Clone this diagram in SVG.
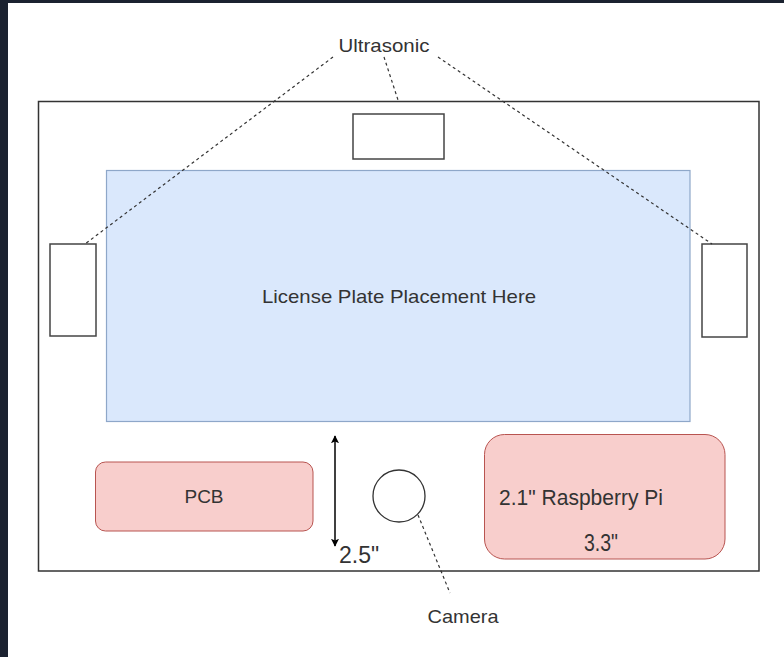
<svg xmlns="http://www.w3.org/2000/svg" width="784" height="657" viewBox="0 0 784 657">
<style>
.t{font-family:"Liberation Sans",Arial,sans-serif;fill:#333;}
.box{fill:#fff;stroke:#444;stroke-width:1.5;}
.dash{fill:none;stroke:#333;stroke-width:1.2;stroke-dasharray:3 3;}
.red{fill:#f8cecc;stroke:#b85450;stroke-width:1;}
</style>
<defs>
<marker id="ah" viewBox="0 0 10 10" refX="9" refY="5" markerWidth="8" markerHeight="8" orient="auto-start-reverse" markerUnits="userSpaceOnUse">
<path d="M0,0 L10,5 L0,10 L2,5 z" fill="#000"/>
</marker>
</defs>
<rect x="0" y="0" width="784" height="657" fill="#fff"/>
<rect x="0" y="0" width="8" height="657" fill="#1b2230"/>
<rect x="0" y="0" width="784" height="3" fill="#1b2230"/>
<g id="frame"><rect x="38.5" y="101.5" width="720.5" height="469.5" fill="#fff" stroke="#333" stroke-width="1.5"/></g>
<g id="plate"><rect x="106.5" y="170.5" width="583.5" height="251" fill="#dae8fc" stroke="#8ea7c9" stroke-width="1.2"/>
<text class="t" x="399" y="303" font-size="19" text-anchor="middle" textLength="274" lengthAdjust="spacingAndGlyphs">License Plate Placement Here</text></g>
<g id="sensor-top"><rect class="box" x="353" y="114" width="91" height="45"/></g>
<g id="sensor-left"><rect class="box" x="50" y="244" width="46" height="92"/></g>
<g id="sensor-right"><rect class="box" x="702" y="244" width="45" height="93"/></g>
<g id="pcb"><rect class="red" x="95.5" y="462" width="217.5" height="69" rx="10"/>
<text class="t" x="204" y="503" font-size="19" text-anchor="middle">PCB</text></g>
<g id="camera"><circle cx="399" cy="496" r="26" fill="#fff" stroke="#333" stroke-width="1.3"/></g>
<g id="pi"><rect class="red" x="484.5" y="434.5" width="240.5" height="124.5" rx="20"/>
<text class="t" x="499" y="505" font-size="22" textLength="164" lengthAdjust="spacingAndGlyphs">2.1" Raspberry Pi</text>
<text class="t" x="584" y="551" font-size="23" textLength="34" lengthAdjust="spacingAndGlyphs">3.3"</text></g>
<g id="labels">
<text class="t" x="384" y="52" font-size="19" text-anchor="middle" textLength="91" lengthAdjust="spacingAndGlyphs">Ultrasonic</text>
<text class="t" x="339" y="563" font-size="23">2.5"</text>
<text class="t" x="463" y="623" font-size="19" text-anchor="middle" textLength="71" lengthAdjust="spacingAndGlyphs">Camera</text>
</g>
<g id="connectors">
<line class="dash" x1="333" y1="57" x2="85" y2="244"/>
<line class="dash" x1="384" y1="57" x2="398" y2="100"/>
<line class="dash" x1="438" y1="57" x2="712" y2="244"/>
<line class="dash" x1="418" y1="515" x2="450" y2="593"/>
<line x1="335" y1="436" x2="335" y2="546" stroke="#000" stroke-width="1.5" marker-start="url(#ah)" marker-end="url(#ah)"/>
</g>
</svg>
